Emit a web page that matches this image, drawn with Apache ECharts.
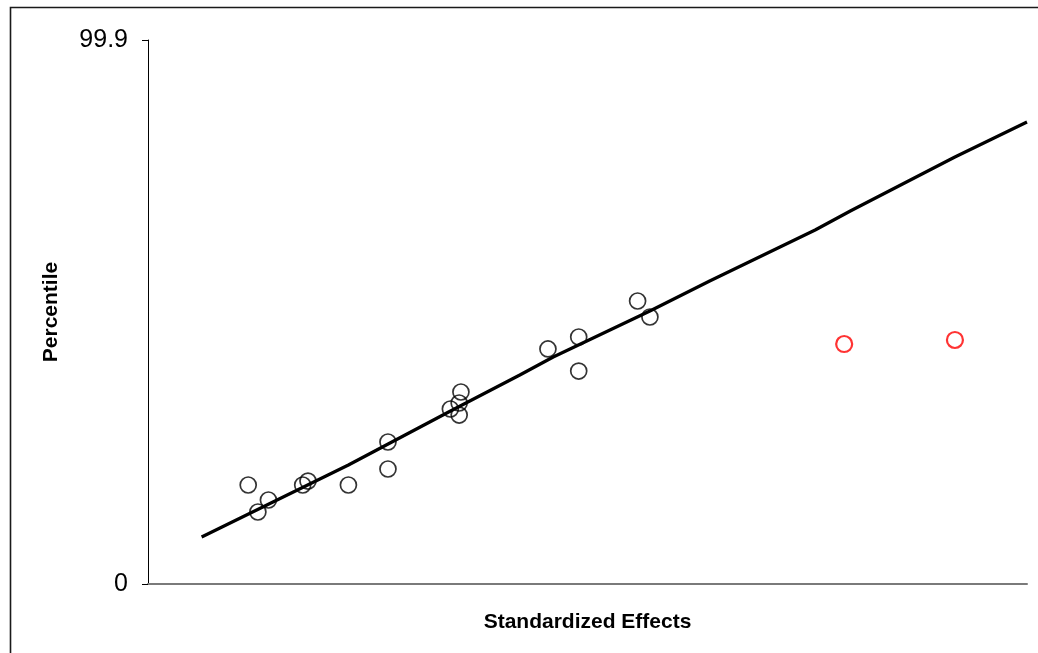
<!DOCTYPE html>
<html>
<head>
<meta charset="utf-8">
<script src="https://cdn.jsdelivr.net/npm/echarts@6/dist/echarts.min.js"></script>
<style>
  html, body { margin: 0; padding: 0; background: #fff; }
  #chart { width: 1038px; height: 653px; }
</style>
</head>
<body>
<div id="chart"></div>
<script>
// Normal probability plot of standardized effects
const effectX = [1.14, 1.25, 1.37, 1.76, 1.82, 2.28, 2.73, 2.73, 3.44, 3.54, 3.56, 3.54, 4.55, 4.90, 4.90, 5.57, 5.71];
const effectPct = [18.18, 13.22, 15.43, 18.18, 18.91, 18.18, 26.08, 21.12, 32.14, 33.24, 35.26, 31.03, 43.16, 45.36, 39.11, 51.97, 49.03];

// Effects flagged as significant
const sigX = [7.92, 9.18];
const sigPct = [44.07, 44.81];

// Reference line
const fitX = [0.61, 2.28, 3.42, 4.23, 4.61, 5.71, 6.39, 7.59, 7.99, 9.18, 10.0];
const fitPct = [8.63, 21.85, 31.59, 38.38, 41.69, 50.13, 55.64, 65.01, 68.50, 78.41, 84.84];

const yTicks = [0, 99.9];

const zip = (a, b) => a.map((v, i) => [v, b[i]]);

const chart = echarts.init(document.getElementById('chart'), null, { renderer: 'canvas' });
const FONT = '"Liberation Sans", Arial, sans-serif';

chart.setOption({
  animation: false,
  backgroundColor: '#ffffff',
  grid: { left: 148, right: 11, top: 40, bottom: 69 },
  graphic: [{
    type: 'rect',
    shape: { x: 10.5, y: 7.5, width: 1200, height: 800 },
    style: { fill: 'none', stroke: '#1a1a1a', lineWidth: 1.6 },
    silent: true
  }],
  xAxis: {
    type: 'value',
    min: 0,
    max: 10,
    name: 'Standardized Effects',
    nameLocation: 'middle',
    nameGap: 28,
    nameTextStyle: { fontFamily: FONT, fontSize: 21, fontWeight: 'bold', color: '#000' },
    axisLine: { show: true, lineStyle: { color: '#7a7a7a', width: 2 } },
    axisTick: { show: false },
    axisLabel: { show: false },
    splitLine: { show: false }
  },
  yAxis: {
    type: 'value',
    min: yTicks[0],
    max: yTicks[1],
    interval: yTicks[1] - yTicks[0],
    name: 'Percentile',
    nameLocation: 'middle',
    nameGap: 86,
    nameTextStyle: { fontFamily: FONT, fontSize: 21, fontWeight: 'bold', color: '#000' },
    axisLine: { show: true, lineStyle: { color: '#000', width: 1 } },
    axisTick: { show: true, length: 6, lineStyle: { color: '#000', width: 1 } },
    axisLabel: {
      margin: 20,
      fontFamily: FONT,
      fontSize: 25,
      color: '#000',
      formatter: v => String(v)
    },
    splitLine: { show: false }
  },
  series: [
    {
      name: 'Fit',
      type: 'line',
      data: zip(fitX, fitPct),
      showSymbol: false,
      symbol: 'none',
      lineStyle: { color: '#000', width: 3.2 },
      z: 2
    },
    {
      name: 'Effects',
      type: 'scatter',
      data: zip(effectX, effectPct),
      symbol: 'circle',
      symbolSize: 16,
      itemStyle: { color: 'rgba(0,0,0,0)', borderColor: '#000', borderWidth: 1.7 },
      z: 3
    },
    {
      name: 'Significant',
      type: 'scatter',
      data: zip(sigX, sigPct),
      symbol: 'circle',
      symbolSize: 16,
      itemStyle: { color: 'rgba(0,0,0,0)', borderColor: '#ff0000', borderWidth: 2.2 },
      z: 3
    }
  ]
});
</script>
</body>
</html>
